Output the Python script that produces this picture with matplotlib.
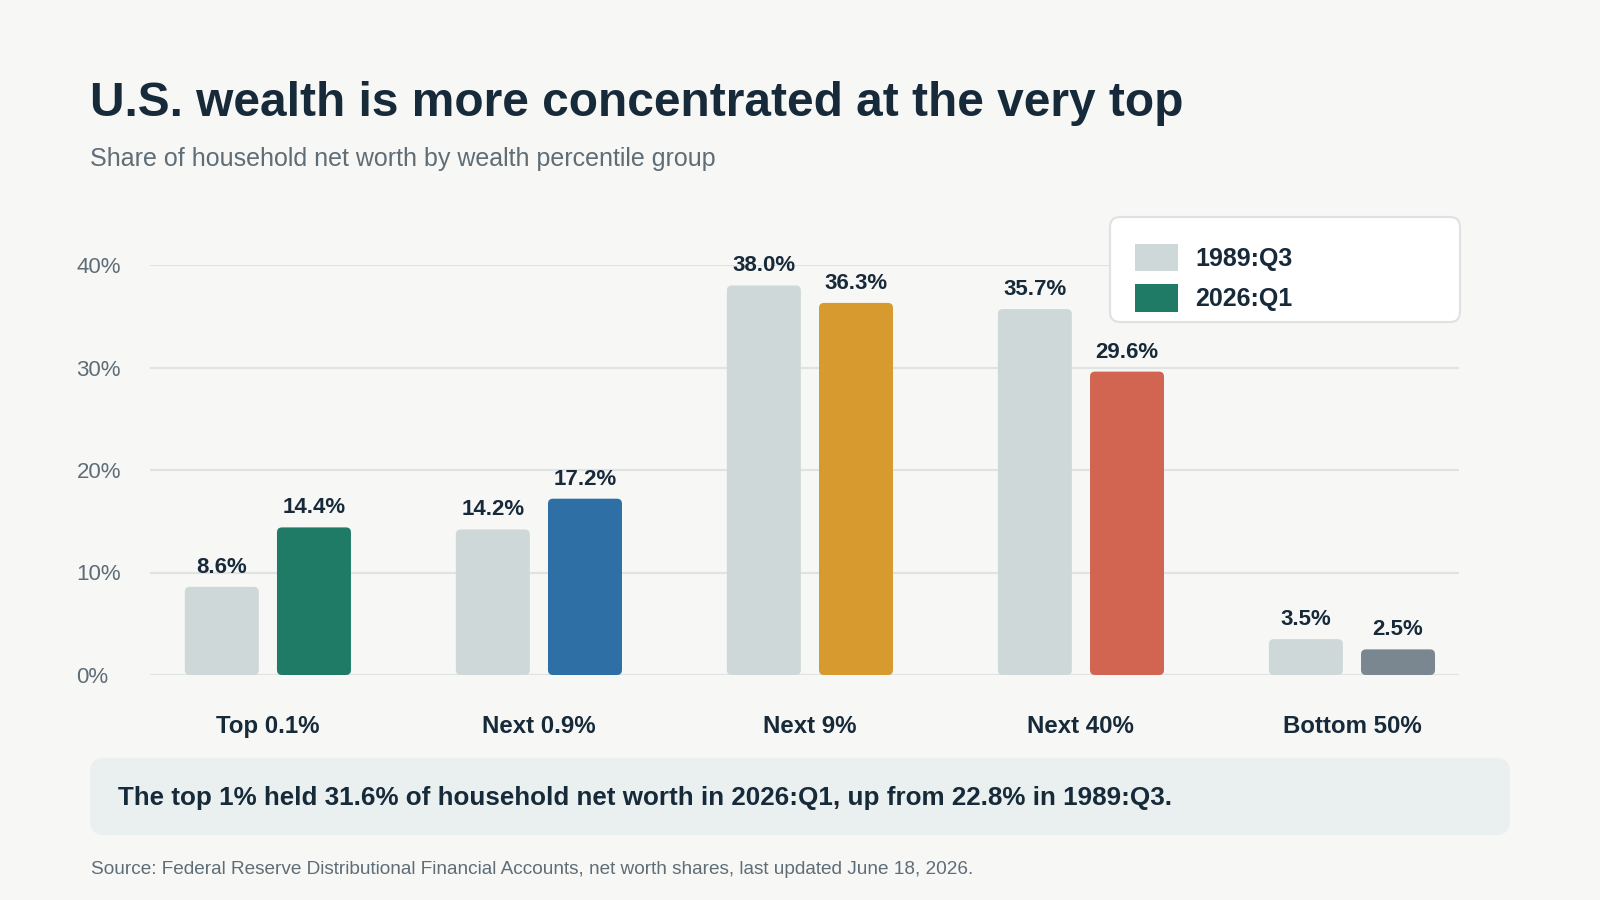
import numpy as np
import matplotlib.pyplot as plt
from matplotlib.patches import FancyBboxPatch, Patch

plt.rcParams['font.family'] = ['Liberation Sans', 'DejaVu Sans']

# Данные
groups = ["Top 0.1%", "Next 0.9%", "Next 9%", "Next 40%", "Bottom 50%"]
share_1989 = [8.6, 14.2, 38.0, 35.7, 3.5]
share_2026 = [14.4, 17.2, 36.3, 29.6, 2.5]
series_names = ["1989:Q3", "2026:Q1"]
color_1989 = "#cfd8d8"
colors_2026 = ["#1f7b66", "#2e6fa5", "#d69a2e", "#d16551", "#7b8790"]
y_ticks = [0, 10, 20, 30, 40]

BG = "#f7f7f5"
DARK = "#172a3a"
GRAY = "#5f6d77"

W, H = 1600, 900
fig = plt.figure(figsize=(16, 9), dpi=100, facecolor=BG)

# оси: x 150..1459 px, y 265..675 px
ax = fig.add_axes([150 / W, 1 - 675 / H, (1459 - 150) / W, 410 / H])
ax.set_facecolor(BG)
ax.set_xlim(-0.435, 4.395)
ax.set_ylim(0, 40)

x = np.arange(len(groups))
bw = 0.273
off = 0.17

px_x = (1459 - 150) / (4.395 + 0.435)   # px на единицу x
px_y = 410 / 40                          # px на единицу y
aspect = px_x / px_y
r = 5 / px_x

def rounded(bars, colors):
    for b, c in zip(bars, colors):
        b.set_visible(False)
        p = FancyBboxPatch((b.get_x(), b.get_y()), b.get_width(), b.get_height(),
                           boxstyle=f"round,pad=0,rounding_size={r}",
                           mutation_aspect=aspect, fc=c, ec="none", zorder=3)
        ax.add_patch(p)

b1 = ax.bar(x - off, share_1989, bw)
b2 = ax.bar(x + off, share_2026, bw)
rounded(b1, [color_1989] * len(groups))
rounded(b2, colors_2026)

for xi, v in zip(x - off, share_1989):
    ax.annotate(f"{v:.1f}%", (xi, v), xytext=(0, 6.5), textcoords="offset points",
                ha="center", va="bottom", fontsize=16, fontweight="bold", color=DARK)
for xi, v in zip(x + off, share_2026):
    ax.annotate(f"{v:.1f}%", (xi, v), xytext=(0, 6.5), textcoords="offset points",
                ha="center", va="bottom", fontsize=16, fontweight="bold", color=DARK)

# сетка
ax.set_yticks(y_ticks)
ax.set_yticklabels([f"{t}%" for t in y_ticks], fontsize=16, color=GRAY, ha="left")
ax.tick_params(axis="y", length=0, pad=53)
ax.grid(axis="y", color="#dfe4e3", lw=1.5, zorder=0)
ax.set_axisbelow(True)
ax.set_xticks(x)
ax.set_xticklabels(groups, fontsize=17.3, fontweight="bold", color=DARK)
ax.tick_params(axis="x", length=0, pad=28.5)
for s in ax.spines.values():
    s.set_visible(False)

# заголовки
fig.text(90 / W, 1 - 103 / H, "U.S. wealth is more concentrated at the very top",
         fontsize=34.5, fontweight="bold", color=DARK, va="center")
fig.text(90 / W, 1 - 159 / H, "Share of household net worth by wealth percentile group",
         fontsize=18, color=GRAY, va="center")

# легенда
fig.add_artist(FancyBboxPatch((1110, H - 322), 350, 105, transform=None,
                              boxstyle="round,pad=0,rounding_size=10",
                              fc="white", ec="#dde3e3", lw=1.5))
handles = [Patch(fc=color_1989, ec="none"), Patch(fc=colors_2026[0], ec="none")]
fig.legend(handles, series_names, loc="upper left",
           bbox_to_anchor=(1115 / W, 1 - 224 / H), frameon=False,
           prop={"size": 18, "weight": "bold"}, labelcolor=DARK,
           handlelength=1.7, handleheight=1.3, handletextpad=0.72,
           labelspacing=0.52, borderpad=0.3)

# вывод
fig.add_artist(FancyBboxPatch((90, H - 835), 1420, 77, transform=None,
                              boxstyle="round,pad=0,rounding_size=14",
                              fc="#eaeff0", ec="none"))
fig.text(118 / W, 1 - 798 / H,
         "The top 1% held 31.6% of household net worth in 2026:Q1, up from 22.8% in 1989:Q3.",
         fontsize=18.7, fontweight="bold", color=DARK, va="center")

fig.text(91 / W, 1 - 869 / H,
         "Source: Federal Reserve Distributional Financial Accounts, net worth shares, last updated June 18, 2026.",
         fontsize=13.7, color=GRAY, va="center")

fig.savefig("out.png", dpi=100, facecolor=BG)
